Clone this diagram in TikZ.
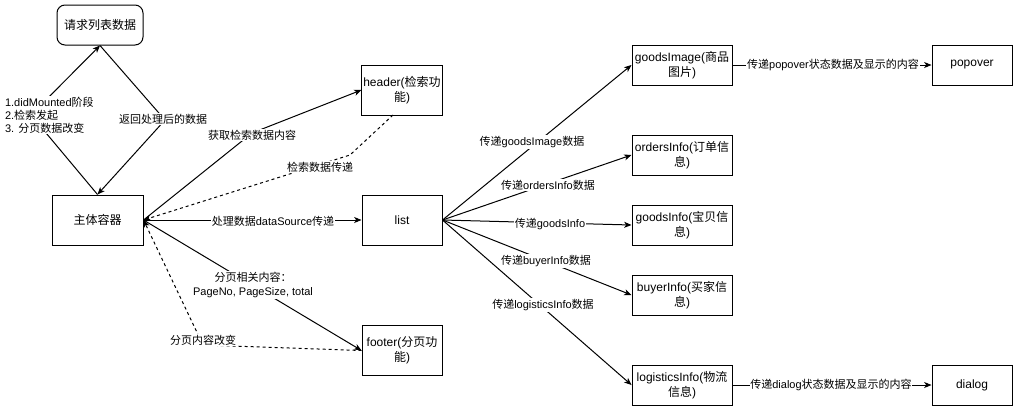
\documentclass[tikz,border=0pt]{standalone}
\usepackage{fontspec}
\setmainfont{Liberation Sans}
\newfontfamily\cjk{Noto Sans CJK SC}
\usetikzlibrary{arrows.meta,calc}
\newcommand\zh[1]{{\cjk #1}}
\begin{document}
\begin{tikzpicture}[x=0.75pt,y=-0.75pt,
 box/.style={draw, line width=0.75pt, fill=white, align=center, inner sep=1pt, font=\fontsize{9}{11}\selectfont},
 conn/.style={line width=0.75pt, -{Stealth[length=5.5pt,width=4.5pt,inset=1.5pt]}},
 dashconn/.style={conn, dash pattern=on 2.25pt off 2.25pt},
 lbl/.style={fill=white, inner sep=0.6pt, font=\fontsize{8.25}{10}\selectfont, align=center}]
\useasboundingbox (0,0) rectangle (1019,411);

% nodes
\node[box, rounded corners=6pt, minimum width=64.5pt, minimum height=30pt] (req) at (100,25) {\zh{请求列表数据}};
\node[box, minimum width=68.25pt, minimum height=37.5pt] (main) at (97.5,220) {\zh{主体容器}};
\node[box, minimum width=60pt, minimum height=37.5pt] (header) at (402,90) {header(\zh{检索功}\\\zh{能})};
\node[box, minimum width=60pt, minimum height=37.5pt] (list) at (402,220) {list};
\node[box, minimum width=60pt, minimum height=37.5pt] (footer) at (402,350.5) {footer(\zh{分页功}\\\zh{能})};
\node[box, minimum width=75pt, minimum height=30pt] (gimg) at (682,65) {goodsImage(\zh{商品}\\\zh{图片})};
\node[box, minimum width=75pt, minimum height=30pt] (orders) at (682,155) {ordersInfo(\zh{订单信}\\\zh{息})};
\node[box, minimum width=75pt, minimum height=30pt] (ginfo) at (682,225) {goodsInfo(\zh{宝贝信}\\\zh{息})};
\node[box, minimum width=75pt, minimum height=30pt] (buyer) at (682,295) {buyerInfo(\zh{买家信}\\\zh{息})};
\node[box, minimum width=75pt, minimum height=30pt] (logi) at (682,385) {logisticsInfo(\zh{物流}\\\zh{信息})};
\node[box, minimum width=60pt, minimum height=30pt] (popover) at (972,65) {popover};
\node[box, minimum width=60pt, minimum height=30pt] (dialog) at (972,385) {dialog};

% waypoints
\coordinate (w1) at (31,115);
\coordinate (w2) at (165,120);
\coordinate (w3) at (252,133);
\coordinate (w4) at (350,155);
\coordinate (w5) at (203,345);
\coordinate (hs) at (393,115);

% connectors
\draw[conn] (main.north) -- (w1) -- (req.south);
\draw[conn] (req.south) -- (w2) -- (main.north);
\draw[conn] (main.east) -- (w3) -- (header.west);
\draw[dashconn] (hs) -- (w4) -- (main.east);
\draw[conn] (main.east) -- (list.west);
\draw[conn] (main.east) -- (footer.west);
\draw[dashconn] (footer.west) -- (w5) -- (main.east);

\draw[conn] (list.east) -- (gimg.west);
\draw[conn] (list.east) -- (orders.west);
\draw[conn] (list.east) -- (ginfo.west);
\draw[conn] (list.east) -- (buyer.west);
\draw[conn] (list.east) -- (logi.west);
\draw[conn] (gimg.east) -- (popover.west);
\draw[conn] (logi.east) -- (dialog.west);

% labels
\node[lbl, anchor=west, align=left, font=\fontsize{8.25}{9.75}\selectfont] (l1) at (4,115) {1.didMounted\zh{阶段}\\2.\zh{检索发起}\\3. \zh{分页数据改变}};
\node[lbl] (l2) at (163,119) {\zh{返回处理后的数据}};
\node[lbl] (l3) at (252,135) {\zh{获取检索数据内容}};
\node[lbl] (l4) at (320,167) {\zh{检索数据传递}};
\node[lbl] (l5) at (273,221) {\zh{处理数据}dataSource\zh{传递}};
\node[lbl, font=\fontsize{8.25}{10.5}\selectfont] (l6) at (253,285) {\zh{分页相关内容：}\\PageNo, PageSize, total};
\node[lbl] (l7) at (203,340) {\zh{分页内容改变}};
\node[lbl] (l8) at (532,142) {\zh{传递}goodsImage\zh{数据}};
\node[lbl] (l9) at (548,185) {\zh{传递}ordersInfo\zh{数据}};
\node[lbl] (l10) at (550,224) {\zh{传递}goodsInfo};
\node[lbl] (l11) at (546,261) {\zh{传递}buyerInfo\zh{数据}};
\node[lbl] (l12) at (543,305) {\zh{传递}logisticsInfo\zh{数据}};
\node[lbl] (l13) at (833,65) {\zh{传递}popover\zh{状态数据及显示的内容}};
\node[lbl] (l14) at (831,385) {\zh{传递}dialog\zh{状态数据及显示的内容}};
\end{tikzpicture}
\end{document}
